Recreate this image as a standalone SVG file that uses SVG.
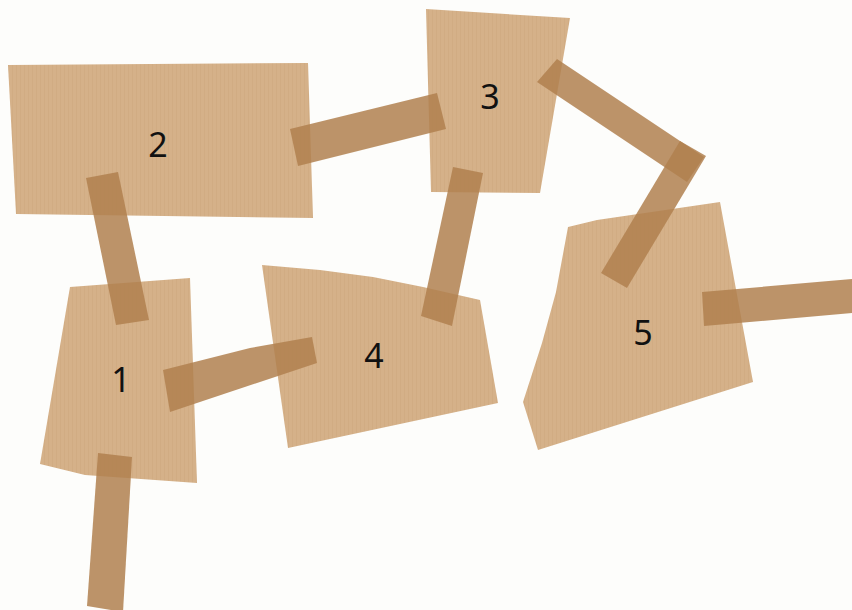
<svg xmlns="http://www.w3.org/2000/svg" width="852" height="610" viewBox="0 0 852 610">
<defs>
<pattern id="corr" width="4" height="10" patternUnits="userSpaceOnUse">
<rect width="4" height="10" fill="#d5b189"/>
<rect width="1" height="10" fill="#c8a277" opacity="0.35"/>
</pattern>
<style>
.card{fill:url(#corr);}
.tape{fill:#b0804f;opacity:0.85;}
.lbl{font-family:"Noto Sans","Liberation Sans",sans-serif;font-size:34px;fill:#111;text-anchor:middle;}
</style>
</defs>
<rect width="852" height="610" fill="#fdfdfb"/>
<g id="node-2"><polygon class="card" points="8,65 308,63 313,218 16,214"/></g>
<g id="node-3"><polygon class="card" points="426,9 570,18 540,193 431,192"/></g>
<g id="node-1"><polygon class="card" points="70,287 190,278 197,483 85,475 40,464"/></g>
<g id="node-4"><polygon class="card" points="262,265 320,270 373,277 423,287 480,300 498,403 288,448"/></g>
<g id="node-5"><polygon class="card" points="568,227 597,220 720,202 753,382 538,450 523,402 542,343 556,292"/></g>
<g id="connectors">
<polygon class="tape" points="86,178 118,172 149,320 116,325"/>
<polygon class="tape" points="290,129 437,93 446,129 298,166"/>
<polygon class="tape" points="453,167 483,173 452,326 421,316"/>
<polygon class="tape" points="557,59 704,157 687,182 537,82"/>
<polygon class="tape" points="680,141 706,156 627,288 601,273"/>
<polygon class="tape" points="702,292 852,279 852,313 704,326"/>
<polygon class="tape" points="163,370 250,348 312,337 317,363 170,412"/>
<polygon class="tape" points="98,453 132,457 123,612 87,606"/>
</g>
<g id="labels">
<text class="lbl" x="158" y="157">2</text>
<text class="lbl" x="490" y="109">3</text>
<text class="lbl" x="121" y="392">1</text>
<text class="lbl" x="374" y="368">4</text>
<text class="lbl" x="643" y="345">5</text>
</g>
</svg>
